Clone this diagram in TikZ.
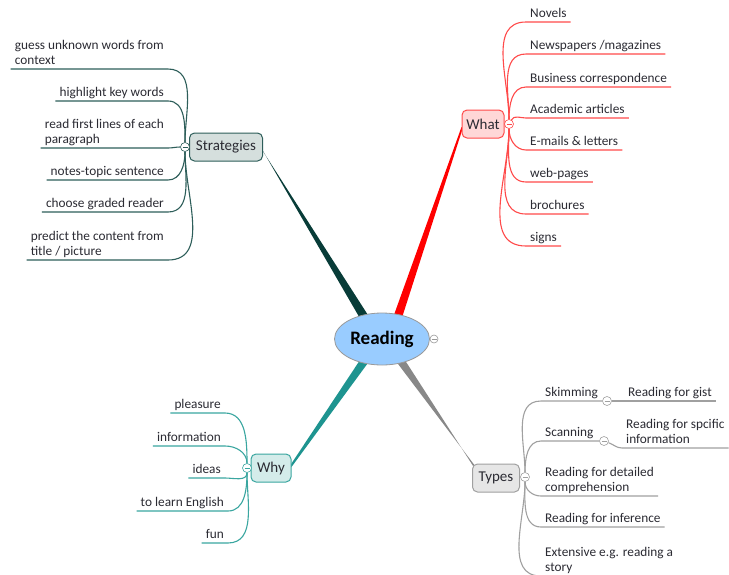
\documentclass[tikz,border=0pt]{standalone}
\usepackage{fontspec}
\setmainfont{Carlito}
\usetikzlibrary{shapes.geometric, calc, backgrounds}

\definecolor{txt}{HTML}{2B2B33}
\definecolor{readfill}{HTML}{99CCFF}
\definecolor{stratbr}{HTML}{083C38}
\definecolor{stratln}{HTML}{2E5E5A}
\definecolor{stratfill}{HTML}{D5DFDD}
\definecolor{whatbr}{HTML}{FF0000}
\definecolor{whatln}{HTML}{FF4A4A}
\definecolor{whatfill}{HTML}{FFD7D7}
\definecolor{whybr}{HTML}{1E9490}
\definecolor{whyln}{HTML}{3AA6A0}
\definecolor{whyfill}{HTML}{D4ECEA}
\definecolor{typesbr}{HTML}{888888}
\definecolor{typesln}{HTML}{A0A0A0}
\definecolor{typesfill}{HTML}{E6E6E6}

\begin{document}
\begin{tikzpicture}[
    x=1pt, y=-1pt,
    root/.style={
        ellipse, draw=black!40, line width=0.8pt, fill=readfill,
        minimum width=95pt, minimum height=52pt, inner sep=1pt,
        font=\fontsize{19}{22}\selectfont\bfseries
    },
    topic/.style={
        rectangle, rounded corners=5pt, line width=1pt,
        minimum height=28pt, inner xsep=4pt,
        font=\fontsize{15}{18}\selectfont, text=txt
    },
    leaf/.style={
        inner xsep=4pt, inner ysep=1.5pt, text depth=3pt, align=left,
        font=\fontsize{13.3}{15}\selectfont, text=txt
    },
    leafl/.style={leaf, anchor=south east},
    leafr/.style={leaf, anchor=south west},
    toggle/.style={
        circle, draw=#1, fill=white, line width=0.6pt, inner sep=0pt,
        minimum size=9pt,
        path picture={\draw[#1, line width=0.6pt]
            ([xshift=-2.5pt]path picture bounding box.center) --
            ([xshift=2.5pt]path picture bounding box.center);}
    },
    link/.style={line width=1.1pt, draw=#1},
]

\useasboundingbox (0,0) rectangle (729,574);

% Centre
\node[root] (read) at (382,339) {Reading};
\node[toggle=black!40, minimum size=8pt] (read-c) at (434,339) {};

% Main topics
\node[topic, draw=stratln, fill=stratfill, minimum width=73pt] (strat) at (226,147) {Strategies};
\node[toggle=stratln] (strat-c) at (185,147) {};
\node[topic, draw=whatln, fill=whatfill, minimum width=42pt] (what) at (483,124) {What};
\node[toggle=whatln] (what-c) at (509,124) {};
\node[topic, draw=whyln, fill=whyfill, minimum width=40pt] (why) at (271,468) {Why};
\node[toggle=whyln] (why-c) at (247,468) {};
\node[topic, draw=typesln, fill=typesfill, minimum width=47pt] (types) at (496,478) {Types};
\node[toggle=typesln] (types-c) at (525,477) {};

% Tapered branches
\begin{scope}[on background layer]
\fill[white] (0,0) rectangle (729,574);
\fill[stratbr] ($(read)+(-17,-12)$) -- ($(read)+(-7,-13)$) -- ($(strat.east)+(1,6)$) -- ($(strat.east)+(0,4)$) -- cycle;
\fill[whatbr] ($(read)+(8,-13)$) -- ($(read)+(17,-12)$) -- ($(what.west)+(1,5)$) -- ($(what.west)+(0,3)$) -- cycle;
\fill[whybr] ($(read)+(-16,12)$) -- ($(read)+(-6,13)$) -- ($(why.east)+(0,-1)$) -- ($(why.east)+(-1,-3)$) -- cycle;
\fill[typesbr] ($(read)+(7,13)$) -- ($(read)+(17,12)$) -- ($(types.north west)+(4,7)$) -- ($(types.north west)+(5,5)$) -- cycle;
\end{scope}

% Strategies
\node[leafl] (s1) at (168,69) {guess unknown words from\\context};
\node[leafl] (s2) at (168,101) {highlight key words};
\node[leafl] (s3) at (168,148) {read first lines of each\\paragraph};
\node[leafl] (s4) at (168,180) {notes-topic sentence};
\node[leafl] (s5) at (168,212) {choose graded reader};
\node[leafl] (s6) at (168,260) {predict the content from\\title / picture};
\foreach \n/\o in {s1/90, s2/90, s3/180, s4/270, s5/270, s6/270}
    \draw[link=stratln] (strat-c) to[out=\o, in=0] (\n.south east) -- (\n.south west);

% What
\node[leafr] (w1) at (526,22) {Novels};
\node[leafr] (w2) at (526,54) {Newspapers /magazines};
\node[leafr] (w3) at (526,87) {Business correspondence};
\node[leafr] (w4) at (526,118) {Academic articles};
\node[leafr] (w5) at (526,150) {E-mails \& letters};
\node[leafr] (w6) at (526,182) {web-pages};
\node[leafr] (w7) at (526,214) {brochures};
\node[leafr] (w8) at (526,246) {signs};
\foreach \n/\o in {w1/90, w2/90, w3/90, w4/60, w5/270, w6/270, w7/270, w8/270}
    \draw[link=whatln] (what-c) to[out=\o, in=180] (\n.south west) -- (\n.south east);

% Why
\node[leafl] (y1) at (225,413) {pleasure};
\node[leafl] (y2) at (225,446) {information};
\node[leafl] (y3) at (225,478) {ideas};
\node[leafl] (y4) at (228,511) {to learn English};
\node[leafl] (y5) at (228,543) {fun};
\foreach \n/\o in {y1/90, y2/90, y3/270, y4/270, y5/270}
    \draw[link=whyln] (why-c) to[out=\o, in=0] (\n.south east) -- (\n.south west);

% Types
\node[leafr] (t1) at (541,401) {Skimming};
\node[toggle=typesln] (skim-c) at (607,401) {};
\node[leafr] (g1) at (624,401) {Reading for gist};
\node[leafr] (t2) at (541,441) {Scanning};
\node[toggle=typesln] (scan-c) at (604,441) {};
\node[leafr] (g2) at (622,448) {Reading for spcific\\information};
\node[leafr] (t3) at (541,496) {Reading for detailed\\comprehension};
\node[leafr] (t4) at (541,527) {Reading for inference};
\node[leafr] (t5) at (541,576) {Extensive e.g. reading a\\story};
\draw[link=typesln] (types-c) to[out=90, in=180] (t1.south west) -- (skim-c.west);
\draw[link=typesln] (skim-c.east) -- (g1.south west) -- (g1.south east);
\draw[link=typesln] (types-c) to[out=90, in=180] (t2.south west) -- (scan-c.west);
\draw[link=typesln] (scan-c) to[out=-20, in=180] (g2.south west) -- (g2.south east);
\foreach \n/\o in {t3/270, t4/270, t5/270}
    \draw[link=typesln] (types-c) to[out=\o, in=180] (\n.south west) -- (\n.south east);

\end{tikzpicture}
\end{document}
